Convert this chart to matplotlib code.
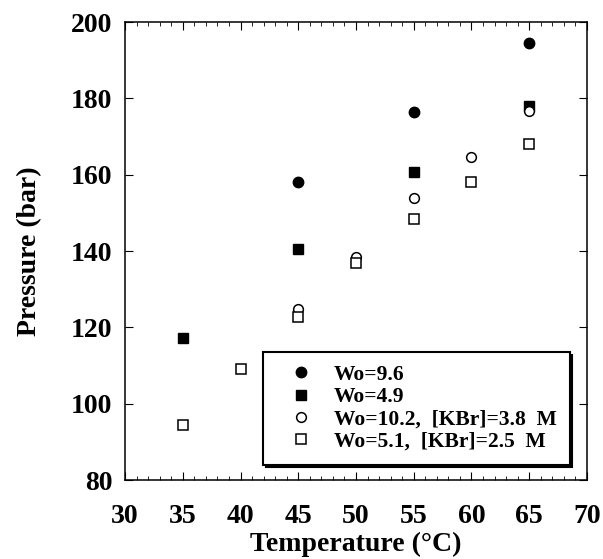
import numpy as np
import matplotlib
matplotlib.use('Agg')
from matplotlib import pyplot as plt
from matplotlib.ticker import MultipleLocator

plt.rcParams['font.family'] = 'Liberation Serif'
plt.rcParams['font.weight'] = 'bold'

t_wo96 = [45, 55, 65]
p_wo96 = [158.0, 176.5, 194.6]
t_wo49 = [35, 45, 55, 65]
p_wo49 = [117.1, 140.5, 160.6, 178.1]
t_wo102 = [45, 50, 55, 60, 65]
p_wo102 = [124.7, 138.5, 153.9, 164.5, 176.7]
t_wo51 = [35, 40, 45, 50, 55, 60, 65]
p_wo51 = [94.4, 109.2, 122.6, 136.9, 148.4, 158.0, 168.1]

labels = ['Wo=9.6', 'Wo=4.9', 'Wo=10.2,  [KBr]=3.8  M', 'Wo=5.1,  [KBr]=2.5  M']

fig = plt.figure(figsize=(6.03, 5.59), dpi=100)
ax = fig.add_axes([125 / 603, 1 - 480 / 559, 462 / 603, 458 / 559])

ax.plot(t_wo96, p_wo96, 'o', color='black', ms=7.5, label=labels[0])
ax.plot(t_wo49, p_wo49, 's', color='black', ms=6.5, label=labels[1])
ax.plot(t_wo102, p_wo102, 'o', mfc='white', mec='black', ms=7, mew=1.1, label=labels[2])
ax.plot(t_wo51, p_wo51, 's', mfc='white', mec='black', ms=6.5, mew=1.1, label=labels[3])

ax.set_xlim(30, 70)
ax.set_ylim(80, 200)
ax.xaxis.set_major_locator(MultipleLocator(5))
ax.xaxis.set_minor_locator(MultipleLocator(1))
ax.yaxis.set_major_locator(MultipleLocator(20))
ax.tick_params(which='both', direction='in', top=True, right=True, labelsize=20)
ax.tick_params(axis='x', pad=17)
ax.tick_params(axis='y', pad=9)
ax.tick_params(which='major', length=6)
ax.tick_params(which='minor', length=3)
for s in ax.spines.values():
    s.set_linewidth(1.1)

ax.set_xlabel('Temperature (°C)', fontsize=20, fontweight='bold', labelpad=2)
ax.set_ylabel('Pressure (bar)', fontsize=20, fontweight='bold', labelpad=21)

leg = ax.legend(loc='upper left', bbox_to_anchor=((263 - 125) / 462, (480 - 352) / 458),
                borderaxespad=0, fontsize=15.5,
                frameon=True, fancybox=False, shadow={'color': 'black', 'alpha': 1},
                edgecolor='black', framealpha=1, borderpad=0.6, handlelength=2.3,
                handletextpad=0.4, labelspacing=0.1)
leg.get_frame().set_linewidth(1.5)

fig.savefig('out.png', dpi=100)
